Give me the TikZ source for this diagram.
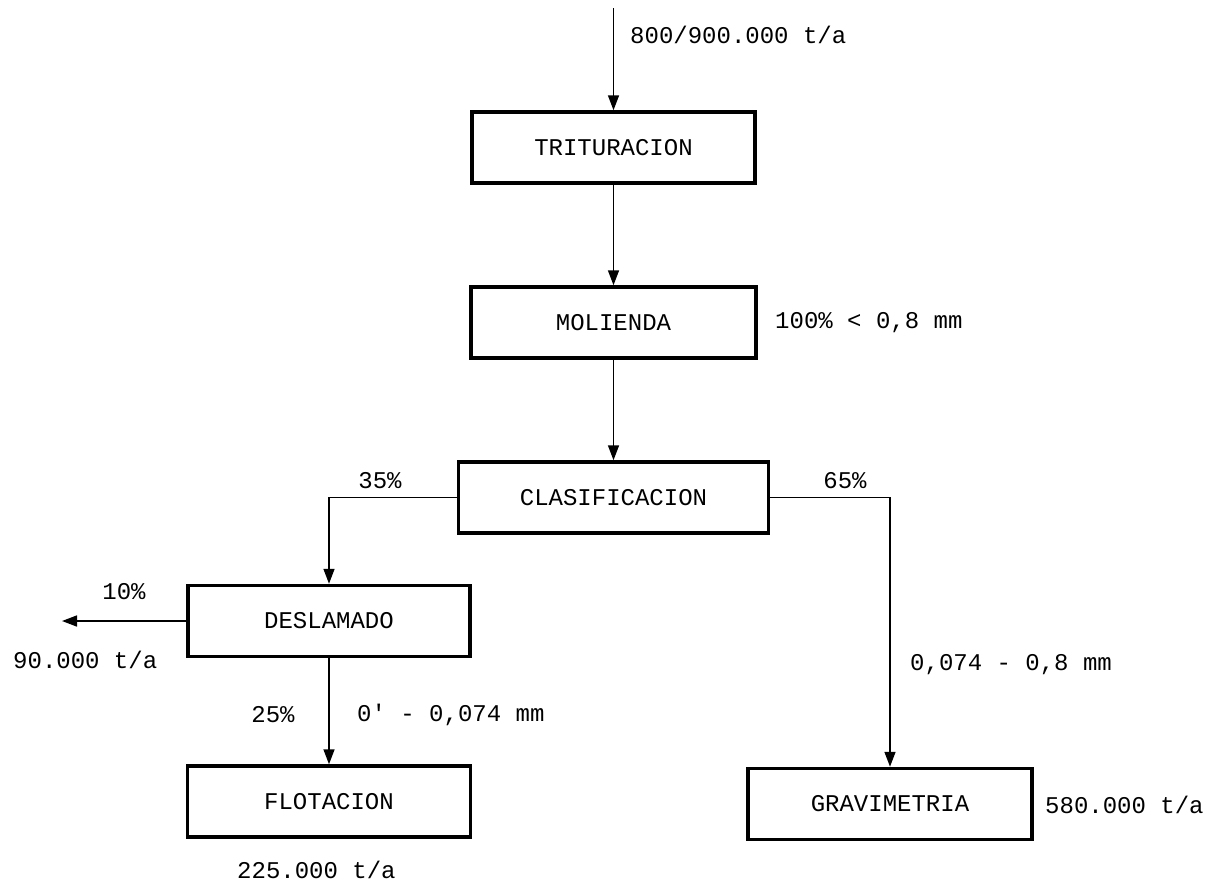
\documentclass[tikz,border=0pt]{standalone}
\usepackage{fontspec}
\setmainfont{Liberation Mono}[Ligatures=TeXOff]
\usetikzlibrary{arrows.meta}
\begin{document}
\begin{tikzpicture}[x=1pt,y=-1pt,
  procbox/.style={draw, line width=3.5pt, inner sep=0pt, minimum height=71pt, font=\fontsize{24}{28}\selectfont},
  flow/.style={line width=1.6pt, -{Triangle[length=15pt,width=11pt]}},
  lbl/.style={inner sep=0pt, font=\fontsize{24}{28}\selectfont}]
\useasboundingbox (0,0) rectangle (1216,884);
\node[procbox, minimum width=283pt] (trit) at (613.5,147.5) {TRITURACION};
\node[procbox, minimum width=285pt] (mol) at (613.5,322.5) {MOLIENDA};
\node[procbox, minimum width=310pt] (clas) at (613.5,497.5) {CLASIFICACION};
\node[procbox, minimum width=282pt] (desl) at (329,621) {DESLAMADO};
\node[procbox, minimum width=283pt] (flot) at (329,801.5) {FLOTACION};
\node[procbox, minimum width=284pt] (grav) at (890,804) {GRAVIMETRIA};
\coordinate (in) at (613.5,8);
\coordinate (out) at (62,621);
\draw[flow] (in) -- (trit.north);
\draw[flow] (trit.south) -- (mol.north);
\draw[flow] (mol.south) -- (clas.north);
\draw[flow] (clas.west) -| (desl.north);
\draw[flow] (clas.east) -| (grav.north);
\draw[flow] (desl.west) -- (out);
\draw[flow] (desl.south) -- (flot.north);
\node[lbl, anchor=west] (l1) at (630,35) {800/900.000 t/a};
\node[lbl, anchor=west] (l2) at (775,323) {100\% < 0,8 mm};
\node[lbl] (l3) at (380,481) {35\%};
\node[lbl] (l4) at (845,481) {65\%};
\node[lbl] (l5) at (124,592) {10\%};
\node[lbl, anchor=west] (l6) at (13,660) {90.000 t/a};
\node[lbl] (l7) at (273,715) {25\%};
\node[lbl, anchor=west] (l8) at (357,715) {0' - 0,074 mm};
\node[lbl, anchor=west] (l9) at (237,870) {225.000 t/a};
\node[lbl, anchor=west] (l10) at (910,665) {0,074 - 0,8 mm};
\node[lbl, anchor=west] (l11) at (1045,805) {580.000 t/a};
\end{tikzpicture}
\end{document}
